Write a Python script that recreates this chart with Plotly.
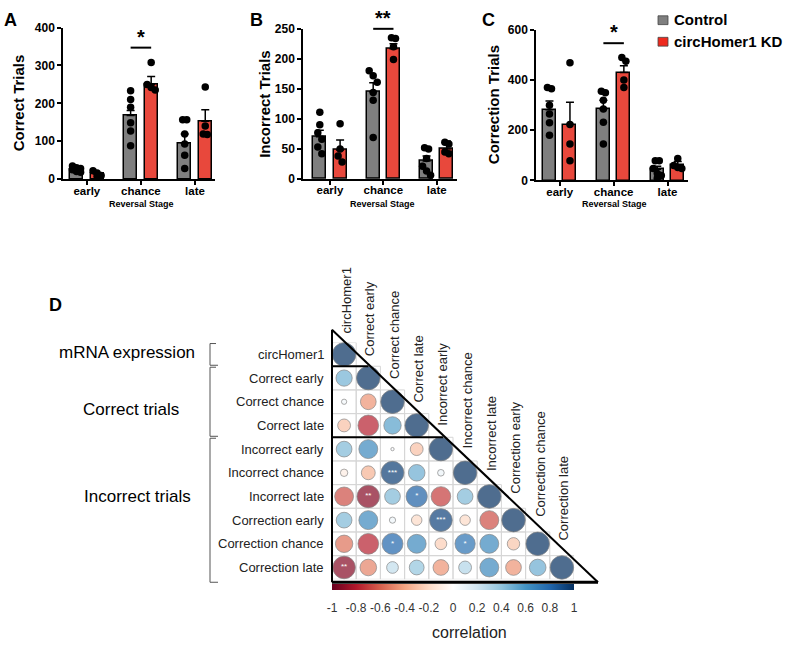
import plotly.graph_objects as go

W, H = 790, 646
FONT = "Liberation Sans, Arial, sans-serif"
GRAY = "#7f7f7f"
RED = "#E8483C"

# ---------------- data: panels A-C ----------------
stages = ["early", "chance", "late"]

A_ctrl_mean = [26, 168, 95]
A_ctrl_sem = [3, 13, 24]
A_kd_mean = [14, 250, 153]
A_kd_sem = [3, 21, 30]
A_ctrl_pts = [[35, 30, 28, 25, 20, 18], [233, 210, 190, 149, 127, 88], [157, 157, 119, 93, 63, 28]]
A_kd_pts = [[22, 16, 10, 8], [308, 250, 242, 235], [243, 140, 119, 118]]

B_ctrl_mean = [70, 145, 30]
B_ctrl_sem = [11, 15, 8]
B_kd_mean = [48, 217, 50]
B_kd_sem = [17, 8, 13]
B_ctrl_pts = [[111, 90, 77, 66, 53, 42], [180, 172, 161, 144, 131, 69], [52, 50, 34, 21, 13, 6]]
B_kd_pts = [[92, 50, 38, 28], [235, 234, 220, 199], [61, 58, 45, 42]]

C_ctrl_mean = [282, 285, 45]
C_ctrl_sem = [35, 35, 12]
C_kd_mean = [223, 430, 62]
C_kd_sem = [89, 27, 14]
C_ctrl_pts = [[370, 365, 300, 265, 230, 180], [355, 350, 320, 285, 232, 145], [79, 79, 48, 28, 20, 9]]
C_kd_pts = [[469, 223, 145, 79], [490, 475, 400, 370], [87, 60, 52, 48]]

sig_labels = ["*", "**", "*"]
sig_heights = [347, 250, 547]

# ---------------- data: panel D ----------------
variables = ["circHomer1", "Correct early", "Correct chance", "Correct late",
             "Incorrect early", "Incorrect chance", "Incorrect late",
             "Correction early", "Correction chance", "Correction late"]
corr_rows = [
    [],
    [0.48],
    [0.05, -0.45],
    [-0.30, -0.78, 0.55],
    [0.45, 0.65, 0.02, -0.30],
    [-0.10, -0.35, 0.95, 0.50, 0.08],
    [-0.65, -0.92, 0.45, 0.82, -0.70, 0.45],
    [0.45, 0.65, 0.07, -0.20, 0.93, -0.20, -0.65],
    [-0.55, -0.78, 0.80, 0.65, -0.25, 0.75, 0.65, -0.28],
    [-0.92, -0.50, 0.25, 0.40, -0.45, 0.30, 0.65, -0.45, 0.50],
]
signif = {(5, 2): "***", (6, 1): "**", (6, 3): "*", (7, 4): "***",
          (8, 2): "*", (8, 5): "*", (9, 0): "**"}
groups = [("mRNA expression", 0, 0), ("Correct trials", 1, 3), ("Incorrect trials", 4, 9)]
cbar_ticks = [-1, -0.8, -0.6, -0.4, -0.2, 0, 0.2, 0.4, 0.6, 0.8, 1]


def PX(x):
    return x / W


def PY(y):
    return 1 - y / H


def spread(vals, ymax):
    order = sorted(range(len(vals)), key=lambda k: -vals[k])
    offs = [0.0] * len(vals)
    grps, cur = [], [order[0]]
    for k in order[1:]:
        if abs(vals[k] - vals[cur[-1]]) < 0.045 * ymax and len(cur) < 3:
            cur.append(k)
        else:
            grps.append(cur)
            cur = [k]
    grps.append(cur)
    for g in grps:
        n = len(g)
        for j, k in enumerate(g):
            offs[k] = (j - (n - 1) / 2) * 0.075
    return offs


fig = go.Figure()

panels = [
    dict(xa="x", ya="y", xd=(63, 215), yd=(176, 21), xr=[-0.44, 2.37], ymax=400, tv=[0, 100, 200, 300, 400],
         ctrl=(A_ctrl_mean, A_ctrl_sem, A_ctrl_pts), kd=(A_kd_mean, A_kd_sem, A_kd_pts),
         title="Correct Trials", tx=18, letter="A", lx=2),
    dict(xa="x2", ya="y2", xd=(303, 457), yd=(175.7, 22.3), xr=[-0.505, 2.38], ymax=250, tv=[0, 50, 100, 150, 200, 250],
         ctrl=(B_ctrl_mean, B_ctrl_sem, B_ctrl_pts), kd=(B_kd_mean, B_kd_sem, B_kd_pts),
         title="Incorrect Trials", tx=265, letter="B", lx=248),
    dict(xa="x3", ya="y3", xd=(536, 688), yd=(177.3, 23.4), xr=[-0.44, 2.38], ymax=600, tv=[0, 200, 400, 600],
         ctrl=(C_ctrl_mean, C_ctrl_sem, C_ctrl_pts), kd=(C_kd_mean, C_kd_sem, C_kd_pts),
         title="Correction Trials", tx=493, letter="C", lx=480),
]

layout_axes = {}
annotations = []
shapes = []
axis_style = dict(showline=True, linecolor="black", linewidth=1.5, ticks="outside", ticklen=4,
                  tickwidth=1.5, tickcolor="black", showgrid=False, zeroline=False,
                  tickfont=dict(family=FONT, size=12, color="black", weight="bold"))

for pi, p in enumerate(panels):
    for (mean, sem, pts), color, off in [(p["ctrl"], GRAY, -0.19), (p["kd"], RED, 0.19)]:
        fig.add_trace(go.Bar(
            x=[i + off for i in range(len(stages))], y=mean, width=0.24,
            marker=dict(color=color, line=dict(color="black", width=1.5)),
            error_y=dict(type="data", symmetric=False, array=sem, arrayminus=[0] * len(sem),
                         color="black", thickness=1.5, width=4),
            xaxis=p["xa"], yaxis=p["ya"], showlegend=False, hoverinfo="skip"))
        xs, ys = [], []
        for i, vals in enumerate(pts):
            offs = spread(vals, p["ymax"])
            xs += [i + off + o for o in offs]
            ys += vals
        fig.add_trace(go.Scatter(x=xs, y=ys, mode="markers", marker=dict(color="black", size=7.5),
                                 cliponaxis=False, xaxis=p["xa"], yaxis=p["ya"], showlegend=False,
                                 hoverinfo="skip"))
    xk = "xaxis" + p["xa"][1:]
    yk = "yaxis" + p["ya"][1:]
    xstyle = dict(axis_style)
    xstyle["tickfont"] = dict(family=FONT, size=11.5, color="black", weight="bold")
    layout_axes[xk] = dict(domain=[PX(p["xd"][0]), PX(p["xd"][1])], range=p["xr"], anchor=p["ya"],
                           tickvals=[0, 1, 2], ticktext=stages, ticklabelstandoff=-4, **xstyle)
    layout_axes[yk] = dict(domain=[PY(p["yd"][0]), PY(p["yd"][1])], range=[0, p["ymax"]], anchor=p["xa"],
                           tickvals=p["tv"], **axis_style)
    # y title
    annotations.append(dict(text=p["title"], x=PX(p["tx"]), y=PY((p["yd"][0] + p["yd"][1]) / 2),
                            xref="paper", yref="paper", textangle=-90, showarrow=False,
                            font=dict(family=FONT, size=15, color="black", weight="bold"),
                            xanchor="center", yanchor="middle"))
    # x title
    annotations.append(dict(text="Reversal Stage", x=PX((p["xd"][0] + p["xd"][1]) / 2 + 2), y=PY(201),
                            xref="paper", yref="paper", showarrow=False,
                            font=dict(family=FONT, size=9, color="black", weight="bold"),
                            xanchor="center", yanchor="middle"))
    # panel letter
    annotations.append(dict(text=p["letter"], x=PX(p["lx"]), y=PY(1), xref="paper", yref="paper",
                            showarrow=False, font=dict(family=FONT, size=18, color="black", weight="bold"),
                            xanchor="left", yanchor="top"))
    # significance
    yfrac = PY(p["yd"][0]) + (PY(p["yd"][1]) - PY(p["yd"][0])) * sig_heights[pi] / p["ymax"]
    shapes.append(dict(type="line", xref=p["xa"], yref="paper", x0=1 - 0.19, x1=1 + 0.19,
                       y0=yfrac, y1=yfrac, line=dict(color="black", width=2)))
    annotations.append(dict(text=sig_labels[pi], x=1, y=yfrac - 2 / H, xref=p["xa"], yref="paper",
                            showarrow=False, font=dict(family=FONT, size=20, color="black", weight="bold"),
                            xanchor="center", yanchor="bottom"))

# legend
for name, color, yc in [("Control", GRAY, 13), ("circHomer1 KD", "#EE2A1E", 35)]:
    shapes.append(dict(type="rect", xref="paper", yref="paper", x0=PX(658), x1=PX(668),
                       y0=PY(yc + 5), y1=PY(yc - 4), fillcolor=color, line=dict(color="#444", width=0.8)))
    annotations.append(dict(text=name, x=PX(672), y=PY(yc), xref="paper", yref="paper", showarrow=False,
                            font=dict(family=FONT, size=15, color="black", weight="bold"),
                            xanchor="left", yanchor="middle"))

# ---------------- panel D ----------------
N = len(variables)
ML, MT, CELL = 332, 343, 24.2
corr_scale = [[0.0, "#67001F"], [0.1, "#B2182B"], [0.2, "#D6604D"], [0.3, "#F4A582"], [0.4, "#FDDBC7"],
              [0.5, "#FFFFFF"], [0.6, "#D1E5F0"], [0.7, "#92C5DE"], [0.8, "#4393C3"], [0.9, "#2166AC"],
              [1.0, "#053061"]]

cx, cy, cv, cs = [], [], [], []
for i in range(N):
    row = corr_rows[i] + [1.0]
    for j, v in enumerate(row):
        cx.append(j)
        cy.append(i)
        cv.append(v)
        cs.append(0.97 * CELL * abs(v) ** 0.5)
        shapes.append(dict(type="rect", xref="x4", yref="y4", x0=j - 0.5, x1=j + 0.5, y0=i - 0.5, y1=i + 0.5,
                           line=dict(color="#d6d6d6", width=1), layer="below"))

fig.add_trace(go.Scatter(
    x=cx, y=cy, mode="markers", xaxis="x4", yaxis="y4", showlegend=False, hoverinfo="skip", cliponaxis=False,
    marker=dict(size=cs, color=cv, cmin=-1, cmax=1, colorscale=corr_scale, line=dict(color="#555", width=0.7),
                colorbar=dict(orientation="h", thickness=6, thicknessmode="pixels", len=242, lenmode="pixels",
                              x=PX(453), xanchor="center", y=PY(590), yanchor="top",
                              tickvals=cbar_ticks, ticktext=[f"{t:g}" for t in cbar_ticks],
                              tickfont=dict(family=FONT, size=12, color="#333"), outlinewidth=0,
                              xpad=0, ypad=0, ticks="outside", ticklen=8, tickcolor="rgba(0,0,0,0)"))))

sx = [k[1] for k in signif]
sy = [k[0] for k in signif]
fig.add_trace(go.Scatter(x=sx, y=sy, mode="text", text=list(signif.values()), xaxis="x4", yaxis="y4",
                         textfont=dict(family=FONT, size=8, color="white"), showlegend=False,
                         hoverinfo="skip", cliponaxis=False))

layout_axes["xaxis4"] = dict(domain=[PX(ML), PX(ML + N * CELL)], range=[-0.5, N - 0.5], visible=False, anchor="y4")
layout_axes["yaxis4"] = dict(domain=[PY(MT + N * CELL), PY(MT)], range=[N - 0.5, -0.5], visible=False, anchor="x4")

# triangle outline
TLx, TLy = ML, MT - 13
BRy = MT + N * CELL + 3
BRx = 598


def x_at(y):
    return TLx + (y - TLy) * (BRx - TLx) / (BRy - TLy)


def y_at(x):
    return TLy + (x - TLx) * (BRy - TLy) / (BRx - TLx)


tri_line = dict(color="black", width=2)
shapes.append(dict(type="line", xref="paper", yref="paper", x0=PX(TLx), y0=PY(TLy), x1=PX(TLx), y1=PY(BRy),
                   line=tri_line, layer="above"))
shapes.append(dict(type="line", xref="paper", yref="paper", x0=PX(TLx), y0=PY(TLy), x1=PX(BRx), y1=PY(BRy),
                   line=tri_line, layer="above"))
shapes.append(dict(type="line", xref="paper", yref="paper", x0=PX(TLx), y0=PY(BRy), x1=PX(BRx), y1=PY(BRy),
                   line=dict(color="black", width=3), layer="above"))
for _, g0, g1 in groups[:-1]:
    yb = MT + (g1 + 1) * CELL
    shapes.append(dict(type="line", xref="paper", yref="paper", x0=PX(TLx), y0=PY(yb), x1=PX(x_at(yb) - 2),
                       y1=PY(yb), line=tri_line, layer="above"))

# row / column labels
for k, name in enumerate(variables):
    annotations.append(dict(text=name, x=PX(ML - 6), y=PY(MT + (k + 0.5) * CELL), xref="paper", yref="paper",
                            showarrow=False, font=dict(family=FONT, size=13, color="#222"),
                            xanchor="right", yanchor="middle"))
    ccx = ML + (k + 0.5) * CELL
    annotations.append(dict(text=name, x=PX(ccx + 2), y=PY(y_at(ccx) - 6), xref="paper", yref="paper",
                            showarrow=False, textangle=-90, font=dict(family=FONT, size=13, color="#222"),
                            xanchor="center", yanchor="bottom"))

# groups with brackets
group_label_pos = [(127, 353), (131, 411), (137, 500)]
for (name, g0, g1), (gx, gy) in zip(groups, group_label_pos):
    ytop = MT + g0 * CELL
    ybot = MT + (g1 + 1) * CELL + (4 if g1 == N - 1 else 0)
    annotations.append(dict(text=name, x=PX(gx), y=PY(gy), xref="paper", yref="paper",
                            showarrow=False, font=dict(family=FONT, size=17, color="black"),
                            xanchor="center", yanchor="middle"))
    path = (f"M {PX(216)} {PY(ytop + 1)} L {PX(210)} {PY(ytop + 1)} L {PX(210)} {PY(ybot - 1)} "
            f"L {PX(218)} {PY(ybot - 1)}")
    shapes.append(dict(type="path", xref="paper", yref="paper", path=path, line=dict(color="#555", width=1)))

annotations.append(dict(text="D", x=PX(47), y=PY(292), xref="paper", yref="paper", showarrow=False,
                        font=dict(family=FONT, size=18, color="black", weight="bold"),
                        xanchor="left", yanchor="top"))
annotations.append(dict(text="correlation", x=PX(470), y=PY(639), xref="paper", yref="paper", showarrow=False,
                        font=dict(family=FONT, size=16, color="#222"), xanchor="center", yanchor="middle"))

fig.update_layout(width=W, height=H, margin=dict(l=0, r=0, t=0, b=0), paper_bgcolor="white",
                  plot_bgcolor="white", font=dict(family=FONT), bargap=0, shapes=shapes,
                  annotations=annotations, **layout_axes)

fig.write_html("out.html", config={"displayModeBar": False},
               post_script="document.body.style.margin='0px';document.body.style.overflow='hidden';")
